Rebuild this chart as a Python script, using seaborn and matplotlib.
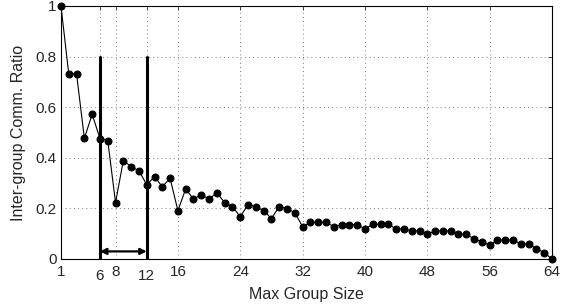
import numpy as np
import pandas as pd
import matplotlib
matplotlib.use("Agg")
from matplotlib import pyplot as plt
import matplotlib.transforms as mtransforms
import seaborn as sns

# data
group_size = list(range(1, 65))
comm_ratio = [1.0, 0.731, 0.731, 0.477, 0.572, 0.476, 0.468, 0.223, 0.389, 0.365,
              0.349, 0.294, 0.325, 0.286, 0.319, 0.191, 0.277, 0.237, 0.254, 0.237,
              0.262, 0.223, 0.207, 0.167, 0.215, 0.207, 0.191, 0.160, 0.207, 0.199,
              0.183, 0.128, 0.145, 0.145, 0.145, 0.128, 0.136, 0.136, 0.136, 0.119,
              0.137, 0.137, 0.137, 0.119, 0.119, 0.111, 0.111, 0.098, 0.111, 0.111,
              0.111, 0.098, 0.098, 0.079, 0.068, 0.055, 0.075, 0.075, 0.075, 0.059,
              0.059, 0.041, 0.025, 0.0]
xticks = [1, 6, 8, 12, 16, 24, 32, 40, 48, 56, 64]
yticks = [0, 0.2, 0.4, 0.6, 0.8, 1]
ytick_labels = ["0", "0.2", "0.4", "0.6", "0.8", "1"]
range_lo, range_hi = 6, 12
range_top = 0.8
arrow_y = 0.03

df = pd.DataFrame({'size': group_size, 'ratio': comm_ratio})

sns.set_style("white")
plt.rcParams['font.family'] = ['Liberation Sans', 'DejaVu Sans']
plt.rcParams['xtick.direction'] = 'in'
plt.rcParams['ytick.direction'] = 'in'

fig = plt.figure(figsize=(5.61, 3.06), dpi=100)
ax = fig.add_axes([0.1087, 0.1536, 0.8753, 0.8268])

sns.lineplot(data=df, x='size', y='ratio', ax=ax, color='black',
             marker='o', markersize=5, linewidth=0.8,
             markeredgecolor='black', zorder=3, clip_on=False)

# range markers
for xv in [range_lo, range_hi]:
    ax.plot([xv, xv], [0, range_top], color='black', linewidth=2.2, zorder=4)
ax.annotate('', xy=(range_lo, arrow_y), xytext=(range_hi, arrow_y),
            arrowprops=dict(arrowstyle='<|-|>', color='black', lw=1.6,
                            mutation_scale=9, shrinkA=0, shrinkB=0),
            zorder=4)

ax.set_xlim(1, 64)
ax.set_ylim(0, 1)
ax.set_xticks(xticks)
ax.set_yticks(yticks)
ax.set_yticklabels(ytick_labels)
ax.tick_params(axis='both', labelsize=11, length=3, width=0.6, pad=3,
               top=True, right=True)
ax.tick_params(axis='x', pad=4)
ax.grid(True, color='black', linestyle=(0, (1, 4)), linewidth=0.6, alpha=0.7)

# the 6 and 12 labels sit a bit lower in the original
for lab in ax.get_xticklabels():
    if lab.get_text() in ('6', '12'):
        lab.set_transform(lab.get_transform() +
                          mtransforms.ScaledTranslation(0, -3 / 72, fig.dpi_scale_trans))

for sp in ax.spines.values():
    sp.set_visible(True)
    sp.set_color('black')
    sp.set_linewidth(0.8)

ax.set_xlabel('Max Group Size', fontsize=11.5, labelpad=3)
ax.set_ylabel('Inter-group Comm. Ratio', fontsize=11.5, labelpad=7)

fig.savefig("out.png", dpi=100)
